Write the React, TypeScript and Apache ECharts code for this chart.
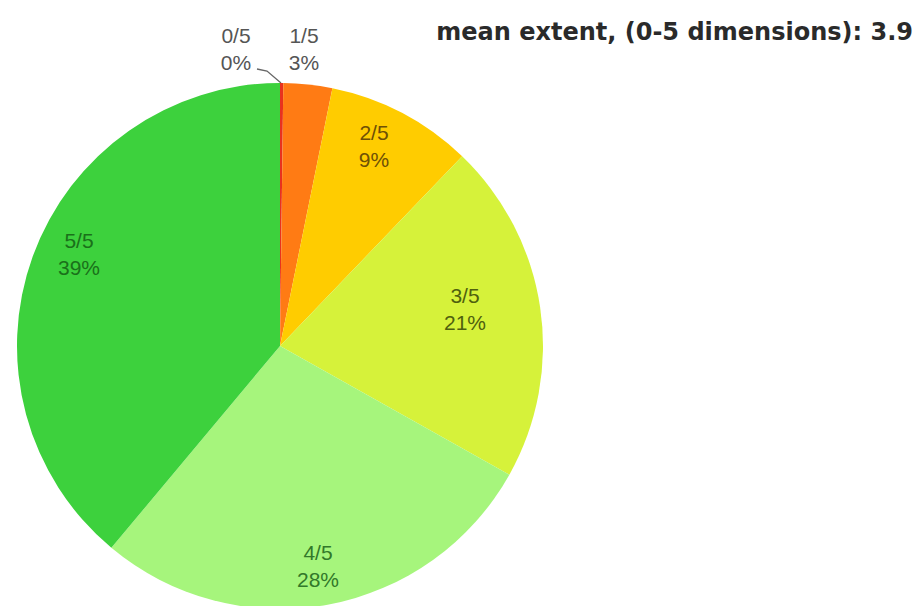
import React, { useEffect, useRef } from "react";
import * as echarts from "echarts";

// Share of projects by extent score (0-5 dimensions), in percent
const categories = ["0/5", "1/5", "2/5", "3/5", "4/5", "5/5"];
const shares = [0.2, 3, 9, 21, 28, 39];
const meanExtent = 3.9;

const sliceColors = ["#e8321e", "#ff7b14", "#ffcc00", "#d6f23a", "#a6f57c", "#3dd13d"];
const labelColors = ["#555555", "#555555", "#6e5006", "#4f600e", "#32782a", "#1a701a"];

// Where each label block is centred (px in the chart)
const labelAnchors: [number, number][] = [
  [236, 49],
  [304, 49],
  [374, 146],
  [465, 309],
  [318, 566],
  [79, 254],
];

export default function App() {
  const ref = useRef<HTMLDivElement>(null);

  useEffect(() => {
    if (!ref.current) return;
    const chart = echarts.init(ref.current, undefined, { renderer: "svg" });
    const font = "'Liberation Sans', Arial, sans-serif";

    chart.setOption({
      animation: false,
      backgroundColor: "#ffffff",
      title: {
        text: `mean extent, (0-5 dimensions): ${meanExtent}`,
        right: 3,
        top: 15,
        textStyle: {
          fontFamily: "'DejaVu Sans', Verdana, sans-serif",
          fontSize: 24,
          fontWeight: "bold",
          color: "#2a2a2a",
        },
      },
      series: [
        {
          type: "pie",
          center: [280, 346],
          radius: 263,
          startAngle: 90,
          clockwise: true,
          silent: true,
          avoidLabelOverlap: false,
          itemStyle: { borderWidth: 0 },
          label: {
            show: true,
            position: "outside",
            fontFamily: font,
            fontSize: 21,
            lineHeight: 27,
            align: "center",
            formatter: (p: any) => `${p.name}\n${Math.round(p.value)}%`,
          },
          labelLine: { show: false },
          labelLayout: (params: any) => {
            const i = params.dataIndex;
            const [x, y] = labelAnchors[i];
            const out: any = { x, y, align: "center", verticalAlign: "middle", hideOverlap: false };
            if (i === 0) {
              out.labelLinePoints = [
                [281, 83],
                [267, 71],
                [257, 69],
              ];
            }
            return out;
          },
          data: categories.map((name, i) => ({
            name,
            value: shares[i],
            itemStyle: { color: sliceColors[i] },
            label: { color: labelColors[i] },
            labelLine:
              i === 0
                ? { show: true, lineStyle: { color: "#666666", width: 1.3 } }
                : { show: false },
          })),
        },
      ],
    });

    return () => chart.dispose();
  }, []);

  return (
    <div
      ref={ref}
      style={{ position: "absolute", left: 0, top: 0, width: 921, height: 606 }}
    />
  );
}
